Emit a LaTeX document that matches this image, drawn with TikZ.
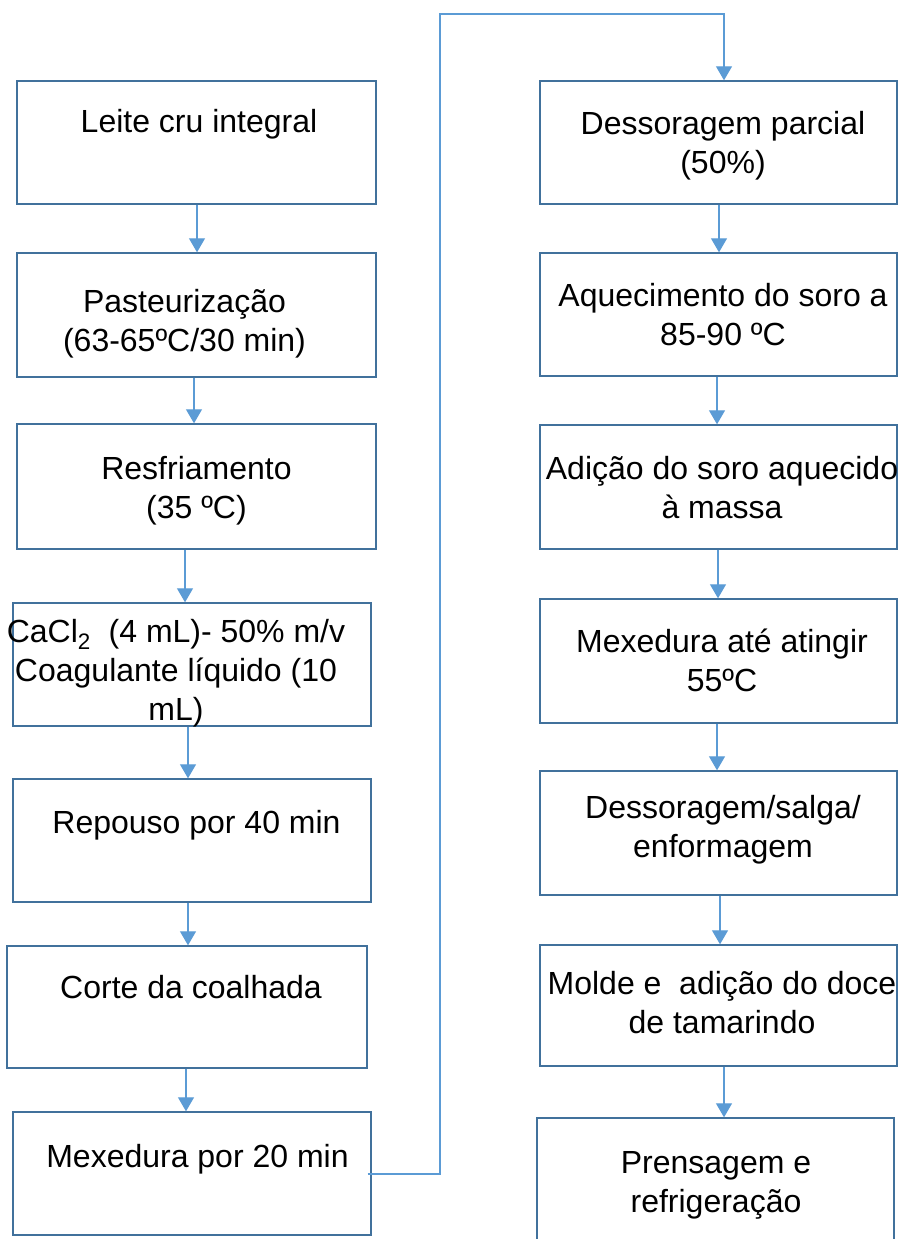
\documentclass[tikz,border=0pt]{standalone}
\usepackage{fontspec}
\setmainfont{Liberation Sans}
\usetikzlibrary{arrows.meta}
\definecolor{boxc}{HTML}{41719C}
\definecolor{arrc}{HTML}{5B9BD5}
\begin{document}
\begin{tikzpicture}[x=1pt,y=-1pt,
  box/.style 2 args={draw=boxc, line width=1.4pt, inner sep=0pt, minimum width=#1, minimum height=#2},
  txt/.style={anchor=base, inner sep=0pt, align=center, font=\fontsize{32}{39}\selectfont},
  arr/.style={draw=arrc, line width=1.2pt, -{Triangle[width=16pt,length=14pt]}}]
\useasboundingbox (0,0) rectangle (901,1239);
% left column boxes
\node[box={359pt}{123pt}] (L1) at (196.5,142.5) {};
\node[box={359pt}{124pt}] (L2) at (196.5,315) {};
\node[box={359pt}{125pt}] (L3) at (196.5,486.5) {};
\node[box={358pt}{123pt}] (L4) at (192,664.5) {};
\node[box={358pt}{123pt}] (L5) at (192,840.5) {};
\node[box={360pt}{122pt}] (L6) at (187,1007) {};
\node[box={358pt}{123pt}] (L7) at (192,1173.5) {};
% right column boxes
\node[box={357pt}{123pt}] (R1) at (718.5,142.5) {};
\node[box={357pt}{123pt}] (R2) at (718.5,314.5) {};
\node[box={357pt}{124pt}] (R3) at (718.5,487) {};
\node[box={357pt}{124pt}] (R4) at (718.5,661) {};
\node[box={357pt}{124pt}] (R5) at (718.5,833) {};
\node[box={357pt}{121pt}] (R6) at (718.5,1005.5) {};
\node[box={357pt}{123pt}] (R7) at (715.5,1179.5) {};
% texts (base = baseline of last line)
\node[txt] (t1) at (199,132) {Leite cru integral};
\node[txt] (t2) at (184.5,351) {Pasteurização\\(63-65ºC/30 min)};
\node[txt] (t3) at (196.5,518) {Resfriamento\\(35 ºC)};
\node[txt] (t4) at (176,720) {CaCl\textsubscript{2}\ \ (4 mL)- 50\% m/v\\Coagulante líquido (10\\mL)};
\node[txt] (t5) at (196.5,833) {Repouso por 40 min};
\node[txt] (t6) at (191,998) {Corte da coalhada};
\node[txt] (t7) at (197.5,1167) {Mexedura por 20 min};
\node[txt] (u1) at (723,173) {Dessoragem parcial\\(50\%)};
\node[txt] (u2) at (723,345) {Aquecimento do soro a\\85-90 ºC};
\node[txt] (u3) at (722,518) {Adição do soro aquecido\\à massa};
\node[txt] (u4) at (722,691) {Mexedura até atingir\\55ºC};
\node[txt] (u5) at (723,857) {Dessoragem/salga/\\enformagem};
\node[txt] (u6) at (722,1033) {Molde e\ \ adição do doce\\de tamarindo};
\node[txt] (u7) at (716,1212) {Prensagem e\\refrigeração};
% left arrows
\draw[arr] ([xshift=0.5pt]L1.south) -- ([xshift=0.5pt]L2.north);
\draw[arr] ([xshift=-2.5pt]L2.south) -- ([xshift=-2.5pt]L3.north);
\draw[arr] ([xshift=-11.5pt]L3.south) -- ([xshift=-7pt]L4.north);
\draw[arr] ([xshift=-4pt]L4.south) -- ([xshift=-4pt]L5.north);
\draw[arr] ([xshift=-4pt]L5.south) -- ([xshift=1pt]L6.north);
\draw[arr] ([xshift=-1pt]L6.south) -- ([xshift=-6pt]L7.north);
% right arrows
\draw[arr] ([xshift=0.5pt]R1.south) -- ([xshift=0.5pt]R2.north);
\draw[arr] ([xshift=-1.5pt]R2.south) -- ([xshift=-1.5pt]R3.north);
\draw[arr] ([xshift=-0.5pt]R3.south) -- ([xshift=-0.5pt]R4.north);
\draw[arr] ([xshift=-1.5pt]R4.south) -- ([xshift=-1.5pt]R5.north);
\draw[arr] ([xshift=1.5pt]R5.south) -- ([xshift=1.5pt]R6.north);
\draw[arr] ([xshift=5.5pt]R6.south) -- ([xshift=8.5pt]R7.north);
% loop connector
\coordinate (turn) at (440,14);
\draw[arr] ([xshift=-4pt,yshift=-0.5pt]L7.east) -| (turn) -| ([xshift=5.5pt]R1.north);
\end{tikzpicture}
\end{document}
